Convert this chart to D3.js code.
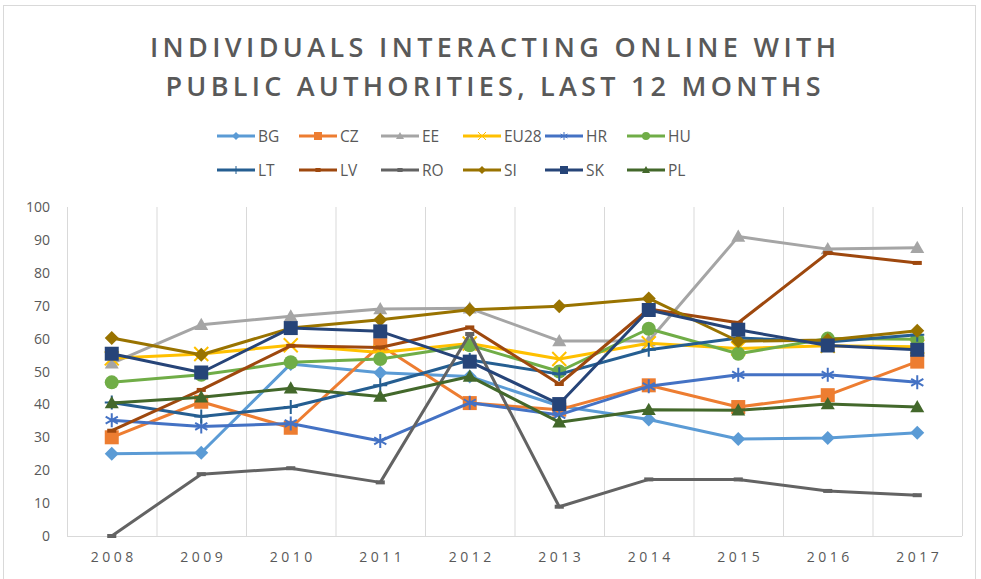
<!DOCTYPE html>
<html>
<head>
<meta charset="utf-8">
<script src="https://cdn.jsdelivr.net/npm/d3@7"></script>
<style>
  html, body { margin: 0; padding: 0; background: #fff; }
  svg { display: block; }
</style>
</head>
<body>
<svg id="canvas" width="981" height="579"></svg>
<script>
// values (percent of individuals)
const years = ['2008', '2009', '2010', '2011', '2012', '2013', '2014', '2015', '2016', '2017']
const yTicks = [0, 10, 20, 30, 40, 50, 60, 70, 80, 90, 100]

const BG = [25, 25.3, 52.3, 49.6, 48.5, 39.5, 35.4, 29.5, 29.8, 31.4]
const CZ = [30, 40.8, 32.9, 58, 40.4, 38.4, 45.8, 39.2, 42.8, 53]
const EE = [52.5, 64.2, 66.8, 69, 69.2, 59.3, 59.3, 91, 87.2, 87.6]
const EU28 = [54, 55.3, 58, 55.8, 58.5, 53.8, 58.6, 57, 57.8, 57.5]
const HR = [35.2, 33.3, 34.2, 28.9, 40.5, 36.8, 45.5, 49, 49, 46.7]
const HU = [46.7, 49, 52.8, 53.8, 58, 50, 63, 55.4, 60, 59.8]
const LT = [40.6, 36.3, 39.2, 45.8, 53.5, 49.2, 56.6, 60.2, 59, 61.2]
const LV = [32, 44.4, 57.8, 57.3, 63.4, 46.2, 69, 64.8, 86, 83]
const RO = [0, 18.8, 20.6, 16.3, 61.4, 8.9, 17.2, 17.2, 13.7, 12.4]
const SI = [60.2, 55.1, 63.2, 65.7, 68.8, 69.8, 72.2, 59.2, 59.6, 62.4]
const SK = [55.4, 49.7, 63.2, 62.2, 53, 40.1, 68.7, 62.7, 57.9, 56.6]
const PL = [40.4, 42.2, 44.9, 42.4, 48.5, 34.6, 38.4, 38.2, 40.1, 39.2]

const series = [
    { name: 'BG', values: BG, color: '#5B9BD5', marker: 'diamond' },
    { name: 'CZ', values: CZ, color: '#ED7D31', marker: 'square' },
    { name: 'EE', values: EE, color: '#A5A5A5', marker: 'triangle' },
    { name: 'EU28', values: EU28, color: '#FFC000', marker: 'x' },
    { name: 'HR', values: HR, color: '#4472C4', marker: 'star' },
    { name: 'HU', values: HU, color: '#70AD47', marker: 'circle' },
    { name: 'LT', values: LT, color: '#255E91', marker: 'plus' },
    { name: 'LV', values: LV, color: '#9E480E', marker: 'dash' },
    { name: 'RO', values: RO, color: '#636363', marker: 'dash' },
    { name: 'SI', values: SI, color: '#997300', marker: 'diamond' },
    { name: 'SK', values: SK, color: '#264478', marker: 'square' },
    { name: 'PL', values: PL, color: '#43682B', marker: 'triangle' }
]

const svg = d3.select('#canvas')
const textColor = '#595959'
const gridColor = '#d9d9d9'

// outer chart frame
svg.append('rect')
    .attr('x', 3.5).attr('y', 5.5)
    .attr('width', 972).attr('height', 600)
    .attr('fill', '#fff')
    .attr('stroke', '#d9d9d9')

// title
const titleLines = [
    { text: 'INDIVIDUALS INTERACTING ONLINE WITH', y: 57, len: 686 },
    { text: 'PUBLIC AUTHORITIES, LAST 12 MONTHS', y: 96, len: 655 }
]
svg.selectAll('text.title')
    .data(titleLines)
    .enter()
    .append('text')
    .attr('class', 'title')
    .attr('x', 493)
    .attr('y', d => d.y)
    .attr('text-anchor', 'middle')
    .attr('textLength', d => d.len)
    .attr('lengthAdjust', 'spacing')
    .attr('font-family', 'Open Sans, sans-serif')
    .attr('font-weight', 600)
    .attr('font-size', 27)
    .attr('fill', textColor)
    .text(d => d.text)

// scales
const x = d3.scaleBand().domain(years).range([67, 962])
const y = d3.scaleLinear().domain([0, 100]).range([536, 207])
const cx = d => x(d) + x.bandwidth() / 2

// vertical grid at category boundaries
const bounds = years.map(d => x(d)).concat([x.range()[1]])
svg.append('g')
    .selectAll('line')
    .data(bounds)
    .enter()
    .append('line')
    .attr('x1', d => d + 0.5).attr('x2', d => d + 0.5)
    .attr('y1', y(100)).attr('y2', y(0))
    .attr('stroke', gridColor)
    .attr('stroke-width', 1)

// bottom axis line
svg.append('line')
    .attr('x1', x.range()[0]).attr('x2', x.range()[1])
    .attr('y1', y(0) + 0.5).attr('y2', y(0) + 0.5)
    .attr('stroke', gridColor)

// y tick labels
svg.append('g')
    .selectAll('text')
    .data(yTicks)
    .enter()
    .append('text')
    .attr('x', 50)
    .attr('y', d => y(d) + 5)
    .attr('text-anchor', 'end')
    .attr('font-family', 'Open Sans, sans-serif')
    .attr('font-size', 14)
    .attr('fill', textColor)
    .text(d => d)

// x tick labels
svg.append('g')
    .selectAll('text')
    .data(years)
    .enter()
    .append('text')
    .attr('x', d => cx(d) + 2)
    .attr('y', 562)
    .attr('text-anchor', 'middle')
    .attr('letter-spacing', 3.5)
    .attr('font-family', 'Open Sans, sans-serif')
    .attr('font-size', 14)
    .attr('fill', textColor)
    .text(d => d)

// marker shapes, s = nominal size in px
function markerPath(type, s) {
    const h = s / 2
    switch (type) {
        case 'diamond':
            return `M0,${-h}L${h},0L0,${h}L${-h},0Z`
        case 'square':
            return `M${-h},${-h}H${h}V${h}H${-h}Z`
        case 'triangle':
            return `M0,${-h}L${h},${h * 0.75}L${-h},${h * 0.75}Z`
        case 'circle':
            return d3.symbol(d3.symbolCircle, Math.PI * h * h)()
        case 'x':
            return `M${-h},${-h}L${h},${h}M${h},${-h}L${-h},${h}`
        case 'plus':
            return `M0,${-h}V${h}M${-h},0H${h}`
        case 'star':
            return `M0,${-h}V${h}M${-h * 0.87},${-h * 0.5}L${h * 0.87},${h * 0.5}M${h * 0.87},${-h * 0.5}L${-h * 0.87},${h * 0.5}`
        case 'dash':
            return `M${-h},-2H${h}V2H${-h}Z`
    }
}
const isStroked = t => t === 'x' || t === 'plus' || t === 'star'

function drawMarker(sel, s, markerSize, strokeW) {
    sel.append('path')
        .attr('d', markerPath(s.marker, s.marker === 'dash' ? markerSize * 0.65 : markerSize))
        .attr('fill', isStroked(s.marker) ? 'none' : s.color)
        .attr('stroke', isStroked(s.marker) ? s.color : 'none')
        .attr('stroke-width', strokeW)
}

const line = d3.line()
    .x((d, i) => cx(years[i]))
    .y(d => y(d))

// series lines and markers
series.forEach(s => {
    const g = svg.append('g').attr('class', 'series')
    g.append('path')
        .attr('d', line(s.values))
        .attr('fill', 'none')
        .attr('stroke', s.color)
        .attr('stroke-width', 3)
        .attr('stroke-linejoin', 'round')

    g.selectAll('g.pt')
        .data(s.values)
        .enter()
        .append('g')
        .attr('class', 'pt')
        .attr('transform', (d, i) => `translate(${cx(years[i])},${y(d)})`)
        .each(function () { drawMarker(d3.select(this), s, 14, 2) })
})

// legend
const legendX0 = 217, legendDx = 82
const legendRows = [136, 170]
const legend = svg.append('g')
    .selectAll('g')
    .data(series)
    .enter()
    .append('g')
    .attr('transform', (d, i) => `translate(${legendX0 + (i % 6) * legendDx},${legendRows[Math.floor(i / 6)]})`)

legend.append('line')
    .attr('x1', 0).attr('x2', 38)
    .attr('stroke', d => d.color)
    .attr('stroke-width', 3)

legend.append('g')
    .attr('transform', 'translate(19,0)')
    .each(function (d) { drawMarker(d3.select(this), d, 8, 1) })

legend.append('text')
    .attr('x', 41)
    .attr('y', 5.5)
    .attr('font-family', 'Open Sans, sans-serif')
    .attr('font-size', 15.5)
    .attr('fill', textColor)
    .text(d => d.name)
</script>
</body>
</html>
